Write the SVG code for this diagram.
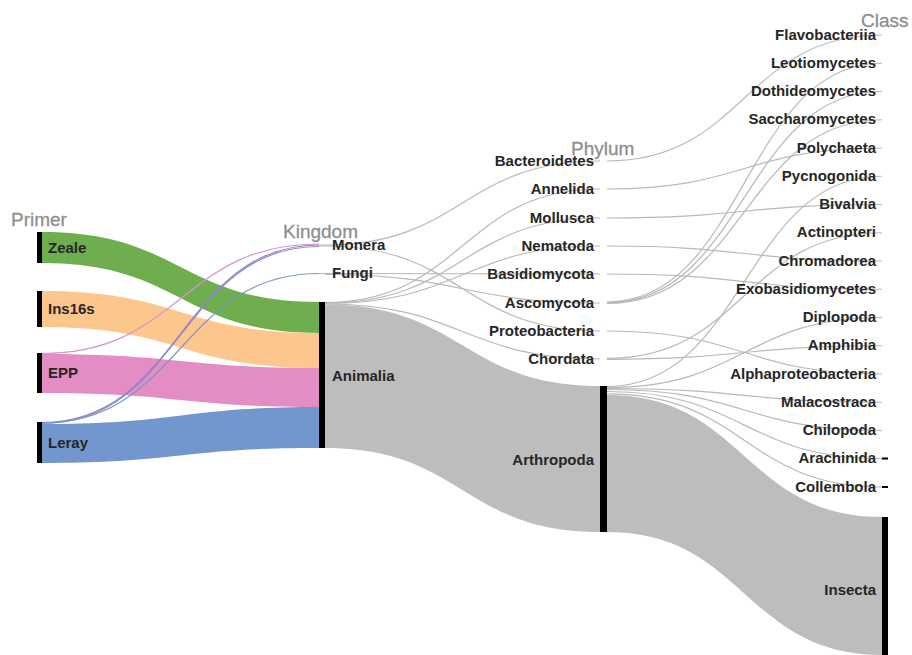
<svg xmlns="http://www.w3.org/2000/svg" width="912" height="655" viewBox="0 0 912 655">
<style>
.lk{fill:none;stroke:#b8b8b8;stroke-width:1.2}
.nd{fill:#000}
.lb{font-family:"Liberation Sans",Arial,sans-serif;font-weight:bold;font-size:15px;fill:#262626}
.r{text-anchor:end}
.hd{font-family:"Liberation Sans",Arial,sans-serif;font-size:19px;fill:#8e8e8e;stroke:#8e8e8e;stroke-width:0.3}
.band{stroke:none}
</style>
<rect width="912" height="655" fill="#fff"/>
<g id="headings">
<text class="hd" x="11" y="226">Primer</text>
<text class="hd" x="283" y="238">Kingdom</text>
<text class="hd" x="571" y="155">Phylum</text>
<text class="hd" x="861" y="27">Class</text>
</g>
<g id="connectors">
<path class="band" fill="#6fae4f" d="M42,232 C180.5,232 180.5,302 319,302 L319,333 C180.5,333 180.5,263 42,263 Z"/>
<path class="band" fill="#fdc68c" d="M42,291 C180.5,291 180.5,333 319,333 L319,368 C180.5,368 180.5,327 42,327 Z"/>
<path class="band" fill="#e48dc4" d="M42,354 C180.5,354 180.5,368 319,368 L319,407 C180.5,407 180.5,393 42,393 Z"/>
<path class="band" fill="#7297cf" d="M42,424 C180.5,424 180.5,407 319,407 L319,448 C180.5,448 180.5,463 42,463 Z"/>
<path class="band" fill="#bdbdbd" d="M325,304.5 C462.5,304.5 462.5,386 600,386 L600,532 C462.5,532 462.5,448 325,448 Z"/>
<path class="band" fill="#bdbdbd" d="M607,395 C744.5,395 744.5,517 882,517 L882,655 C744.5,655 744.5,532 607,532 Z"/>
<path fill="none" stroke="#d795c8" stroke-width="1.2" d="M42,353.5 C180.5,353.5 180.5,244 319,244"/>
<path fill="none" stroke="#8c88c8" stroke-width="1.2" d="M42,422.5 C180.5,422.5 180.5,245 319,245"/>
<path fill="none" stroke="#8c88c8" stroke-width="1.2" d="M42,423.5 C180.5,423.5 180.5,246.5 319,246.5"/>
<path fill="none" stroke="#7f96c8" stroke-width="1.2" d="M42,423 C180.5,423 180.5,273.5 319,273.5"/>
<path class="lk" d="M319,245 L325,245 C462.5,245 462.5,161 600,161"/>
<path class="lk" d="M319,246 L325,246 C462.5,246 462.5,331 600,331"/>
<path class="lk" d="M319,273.5 L325,273.5 C462.5,273.5 462.5,274 600,274"/>
<path class="lk" d="M325,274.5 C462.5,274.5 462.5,303 600,303"/>
<path class="lk" d="M325,302.5 C462.5,302.5 462.5,189 600,189"/>
<path class="lk" d="M325,303 C462.5,303 462.5,218 600,218"/>
<path class="lk" d="M325,303.5 C462.5,303.5 462.5,246 600,246"/>
<path class="lk" d="M325,304 C462.5,304 462.5,359 600,359"/>
<path class="lk" d="M607,161 C744.5,161 744.5,35 882,35"/>
<path class="lk" d="M607,189 C744.5,189 744.5,148 882,148"/>
<path class="lk" d="M607,218 C744.5,218 744.5,204.5 882,204.5"/>
<path class="lk" d="M607,246 C744.5,246 744.5,261 882,261"/>
<path class="lk" d="M607,274 C744.5,274 744.5,289.25 882,289.25"/>
<path class="lk" d="M607,302 C744.5,302 744.5,63.25 882,63.25"/>
<path class="lk" d="M607,302.7 C744.5,302.7 744.5,91.5 882,91.5"/>
<path class="lk" d="M607,303.4 C744.5,303.4 744.5,119.75 882,119.75"/>
<path class="lk" d="M607,331 C744.5,331 744.5,374 882,374"/>
<path class="lk" d="M607,358.3 C744.5,358.3 744.5,232.75 882,232.75"/>
<path class="lk" d="M607,359.3 C744.5,359.3 744.5,345.75 882,345.75"/>
<path class="lk" d="M607,386.5 C744.5,386.5 744.5,176.25 882,176.25"/>
<path class="lk" d="M607,387.5 C744.5,387.5 744.5,317.5 882,317.5"/>
<path class="lk" d="M607,388.5 C744.5,388.5 744.5,402.25 882,402.25"/>
<path class="lk" d="M607,389.5 C744.5,389.5 744.5,430.5 882,430.5"/>
<path class="lk" stroke-width="2" d="M607,391.5 C744.5,391.5 744.5,458.75 882,458.75"/>
<path class="lk" stroke-width="2" d="M607,393.8 C744.5,393.8 744.5,487 882,487"/>
</g>
<g id="node-zeale"><rect class="nd" x="37" y="232" width="5" height="31"/><text class="lb" x="48" y="253">Zeale</text></g>
<g id="node-ins16s"><rect class="nd" x="37" y="291" width="5" height="36"/><text class="lb" x="48" y="314">Ins16s</text></g>
<g id="node-epp"><rect class="nd" x="37" y="353" width="5" height="40"/><text class="lb" x="48" y="378">EPP</text></g>
<g id="node-leray"><rect class="nd" x="37" y="422" width="5" height="41"/><text class="lb" x="48" y="448">Leray</text></g>
<g id="node-monera"><text class="lb" x="332" y="250">Monera</text></g>
<g id="node-fungi"><text class="lb" x="332" y="278">Fungi</text></g>
<g id="node-animalia"><rect class="nd" x="319" y="302" width="6" height="146"/><text class="lb" x="332" y="381">Animalia</text></g>
<g id="node-bacteroidetes"><text class="lb r" x="594" y="166">Bacteroidetes</text></g>
<g id="node-annelida"><text class="lb r" x="594" y="194">Annelida</text></g>
<g id="node-mollusca"><text class="lb r" x="594" y="223">Mollusca</text></g>
<g id="node-nematoda"><text class="lb r" x="594" y="251">Nematoda</text></g>
<g id="node-basidiomycota"><text class="lb r" x="594" y="279">Basidiomycota</text></g>
<g id="node-ascomycota"><text class="lb r" x="594" y="308">Ascomycota</text></g>
<g id="node-proteobacteria"><text class="lb r" x="594" y="336">Proteobacteria</text></g>
<g id="node-chordata"><text class="lb r" x="594" y="364">Chordata</text></g>
<g id="node-arthropoda"><rect class="nd" x="600" y="386" width="7" height="146"/><text class="lb r" x="594" y="465">Arthropoda</text></g>
<g id="node-flavobacteriia"><text class="lb r" x="876" y="40">Flavobacteriia</text></g>
<g id="node-leotiomycetes"><text class="lb r" x="876" y="68">Leotiomycetes</text></g>
<g id="node-dothideomycetes"><text class="lb r" x="876" y="96">Dothideomycetes</text></g>
<g id="node-saccharomycetes"><text class="lb r" x="876" y="124">Saccharomycetes</text></g>
<g id="node-polychaeta"><text class="lb r" x="876" y="153">Polychaeta</text></g>
<g id="node-pycnogonida"><text class="lb r" x="876" y="181">Pycnogonida</text></g>
<g id="node-bivalvia"><text class="lb r" x="876" y="209">Bivalvia</text></g>
<g id="node-actinopteri"><text class="lb r" x="876" y="237">Actinopteri</text></g>
<g id="node-chromadorea"><text class="lb r" x="876" y="266">Chromadorea</text></g>
<g id="node-exobasidiomycetes"><text class="lb r" x="876" y="294">Exobasidiomycetes</text></g>
<g id="node-diplopoda"><text class="lb r" x="876" y="322">Diplopoda</text></g>
<g id="node-amphibia"><text class="lb r" x="876" y="350">Amphibia</text></g>
<g id="node-alphaproteobacteria"><text class="lb r" x="876" y="379">Alphaproteobacteria</text></g>
<g id="node-malacostraca"><text class="lb r" x="876" y="407">Malacostraca</text></g>
<g id="node-chilopoda"><text class="lb r" x="876" y="435">Chilopoda</text></g>
<g id="node-arachinida"><rect class="nd" x="882" y="457.5" width="6" height="2"/><text class="lb r" x="876" y="463">Arachinida</text></g>
<g id="node-collembola"><rect class="nd" x="882" y="486" width="6" height="2"/><text class="lb r" x="876" y="492">Collembola</text></g>
<g id="node-insecta"><rect class="nd" x="882" y="517" width="6" height="138"/><text class="lb r" x="876" y="595">Insecta</text></g>
</svg>
